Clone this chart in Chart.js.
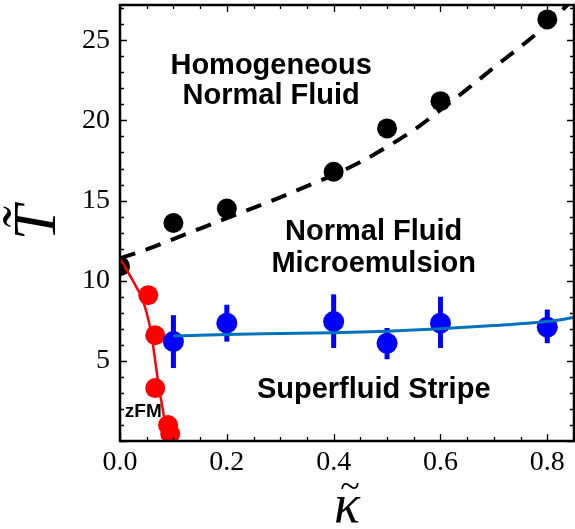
<!DOCTYPE html>
<html>
<head>
<meta charset="utf-8">
<script src="https://cdn.jsdelivr.net/npm/chart.js@4"></script>
<style>
  html, body { margin: 0; padding: 0; background: #fff; }
</style>
</head>
<body>
<canvas id="myChart" width="575" height="529"></canvas>
<script>
"use strict";

// Data
const blackK = [0, 0.1, 0.2, 0.4, 0.5, 0.6, 0.8];
const blackT = [10.9, 13.6, 14.5, 16.8, 19.5, 21.2, 26.3];

const redK = [0.053, 0.066, 0.066, 0.09, 0.094];
const redT = [9.1, 6.6, 3.3, 1.0, 0.45];

const blueK = [0.1, 0.2, 0.4, 0.5, 0.6, 0.8];
const blueT = [6.2, 7.35, 7.45, 6.1, 7.35, 7.1];
const blueLo = [4.55, 6.2, 5.8, 5.1, 5.8, 6.1];
const blueHi = [7.85, 8.5, 9.15, 7.05, 9.0, 8.2];

// boundary curves
const dashK = [0, 0.05, 0.1, 0.15, 0.2, 0.25, 0.3, 0.35, 0.4, 0.45, 0.5, 0.55, 0.6, 0.65, 0.7, 0.75, 0.8, 0.85];
const dashT = [11.4, 11.95, 12.6, 13.25, 13.9, 14.55, 15.2, 15.9, 16.6, 17.4, 18.35, 19.4, 20.65, 21.95, 23.3, 24.6, 26.0, 27.6];

const redLineK = [0, 0.024, 0.04, 0.05, 0.059, 0.066, 0.073, 0.08, 0.085, 0.091];
const redLineT = [11.4, 10.0, 9.0, 8.0, 6.6, 5.0, 3.3, 2.0, 1.0, 0];

const blueLineK = [0.1, 0.2, 0.3, 0.4, 0.5, 0.6, 0.7, 0.8, 0.85];
const blueLineT = [6.55, 6.65, 6.7, 6.75, 6.85, 7.0, 7.2, 7.45, 7.7];

// Region labels (data coords of text baseline centre)
const regionText = ["Homogeneous", "Normal Fluid", "Normal Fluid", "Microemulsion", "Superfluid Stripe", "zFM"];
const regionK = [0.283, 0.283, 0.475, 0.475, 0.475, 0.0437];
const regionT = [22.91, 21.04, 12.52, 10.55, 2.68, 1.51];

const xy = (xs, ys) => xs.map((x, i) => ({ x: x, y: ys[i] }));

const serif = "'Liberation Serif', 'Times New Roman', serif";
const sans = "'Liberation Sans', Arial, sans-serif";

// error bars for the blue points
const errorBars = {
    id: "errorBars",
    beforeDatasetsDraw(chart) {
        const { ctx, chartArea, scales } = chart;
        ctx.save();
        ctx.beginPath();
        ctx.rect(chartArea.left, chartArea.top, chartArea.right - chartArea.left, chartArea.bottom - chartArea.top);
        ctx.clip();
        ctx.strokeStyle = "rgb(0, 0, 255)";
        ctx.lineWidth = 5;
        blueK.forEach((k, i) => {
            const px = scales.x.getPixelForValue(k);
            ctx.beginPath();
            ctx.moveTo(px, scales.y.getPixelForValue(blueLo[i]));
            ctx.lineTo(px, scales.y.getPixelForValue(blueHi[i]));
            ctx.stroke();
        });
        ctx.restore();
    },
};

// frame with inward ticks, region labels, kappa axis title
const frame = {
    id: "frame",
    afterDatasetsDraw(chart) {
        const { ctx, chartArea: a, scales } = chart;
        ctx.save();
        ctx.fillStyle = "#000";
        ctx.textAlign = "center";
        ctx.textBaseline = "alphabetic";
        regionText.forEach((t, i) => {
            ctx.font = (t === "zFM" ? "bold 19px " : "bold 29px ") + sans;
            ctx.fillText(t, scales.x.getPixelForValue(regionK[i]), scales.y.getPixelForValue(regionT[i]));
        });

        // x title: kappa with a tilde on top
        const cx = (a.left + a.right) / 2;
        ctx.font = "italic 54px " + serif;
        ctx.fillText("κ", cx, 522);
        ctx.font = "36px " + serif;
        ctx.fillText("~", cx + 3, 498);

        ctx.strokeStyle = "#000";
        ctx.lineWidth = 1.3;
        ctx.beginPath();
        for (let v = 0; v <= 0.85 + 1e-9; v += 0.05) {
            const px = Math.round(scales.x.getPixelForValue(v)) + 0.5;
            const major = Math.abs(v / 0.2 - Math.round(v / 0.2)) < 1e-6;
            const len = major ? 7 : 4;
            ctx.moveTo(px, a.bottom); ctx.lineTo(px, a.bottom - len);
            ctx.moveTo(px, a.top); ctx.lineTo(px, a.top + len);
        }
        for (let v = 0; v <= 27; v += 1) {
            const py = Math.round(scales.y.getPixelForValue(v)) + 0.5;
            const len = v % 5 === 0 ? 7 : 4;
            ctx.moveTo(a.left, py); ctx.lineTo(a.left + len, py);
            ctx.moveTo(a.right, py); ctx.lineTo(a.right - len, py);
        }
        ctx.stroke();

        ctx.lineWidth = 2.5;
        ctx.strokeRect(a.left, a.top, a.right - a.left, a.bottom - a.top);
        ctx.restore();
    },
};

const data = {
    datasets: [
        {
            label: "SS boundary",
            data: xy(blueLineK, blueLineT),
            showLine: true,
            borderColor: "rgb(0, 114, 189)",
            borderWidth: 3,
            pointRadius: 0,
            cubicInterpolationMode: "monotone",
            clip: 0,
            order: 1,
        },
        {
            label: "SS",
            data: xy(blueK, blueT),
            backgroundColor: "rgb(0, 0, 255)",
            borderWidth: 0,
            pointRadius: 10.5,
            clip: 0,
            order: 2,
        },
        {
            label: "zFM boundary",
            data: xy(redLineK, redLineT),
            showLine: true,
            borderColor: "rgb(255, 0, 0)",
            borderWidth: 2.5,
            pointRadius: 0,
            cubicInterpolationMode: "monotone",
            clip: 0,
            order: 3,
        },
        {
            label: "zFM",
            data: xy(redK, redT),
            backgroundColor: "rgb(255, 0, 0)",
            borderWidth: 0,
            pointRadius: 10,
            clip: 0,
            order: 4,
        },
        {
            label: "NF boundary",
            data: xy(dashK, dashT),
            showLine: true,
            borderColor: "#000",
            borderWidth: 4,
            borderDash: [16, 11],
            pointRadius: 0,
            cubicInterpolationMode: "monotone",
            clip: 0,
            order: 5,
        },
        {
            label: "NF",
            data: xy(blackK, blackT),
            backgroundColor: "#000",
            borderWidth: 0,
            pointRadius: 10,
            clip: 0,
            order: 6,
        },
    ],
};

const config = {
    type: "scatter",
    data: data,
    options: {
        responsive: false,
        animation: false,
        layout: { autoPadding: false, padding: { top: 5, right: 1, left: 0, bottom: 0 } },
        scales: {
            x: {
                type: "linear",
                min: 0,
                max: 0.85,
                grid: { display: false, drawTicks: false },
                border: { display: false },
                ticks: {
                    stepSize: 0.2,
                    includeBounds: false,
                    color: "#000",
                    padding: 5,
                    maxRotation: 0,
                    font: { family: serif, size: 28 },
                    callback: (v) => v.toFixed(1),
                },
                afterFit: (s) => { s.height = 88; s.paddingLeft = 0; s.paddingRight = 0; },
            },
            y: {
                min: 0,
                max: 27.2,
                grid: { display: false, drawTicks: false },
                border: { display: false },
                ticks: {
                    stepSize: 5,
                    includeBounds: false,
                    color: "#000",
                    padding: 10,
                    font: { family: serif, size: 28 },
                    callback: (v) => (v === 0 ? "" : v),
                },
                title: {
                    display: true,
                    text: "T\u0303",
                    color: "#000",
                    font: { family: serif, size: 62, style: "italic" },
                    padding: { top: 2, bottom: 0 },
                },
                afterFit: (s) => { s.width = 120; s.paddingTop = 0; s.paddingBottom = 0; },
            },
        },
        plugins: {
            legend: { display: false },
            tooltip: { enabled: false },
        },
    },
    plugins: [errorBars, frame],
};

const myChart = new Chart(document.getElementById("myChart"), config);
</script>
</body>
</html>
